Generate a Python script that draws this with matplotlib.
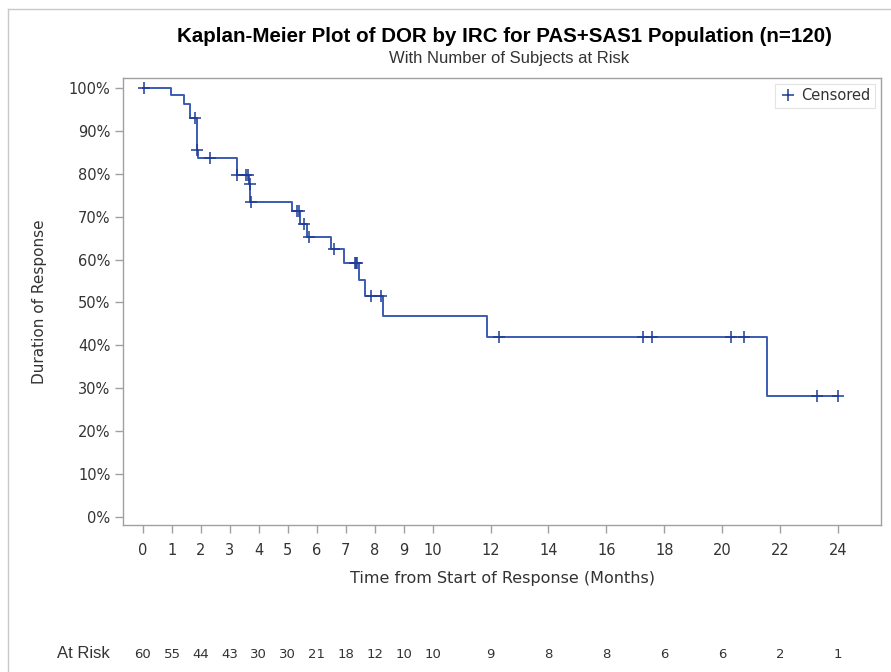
import numpy as np
import matplotlib
matplotlib.use("Agg")
import matplotlib.pyplot as plt
from matplotlib.lines import Line2D
from matplotlib.transforms import blended_transform_factory

# step curve: event times (months) and survival after each step
step_t = [0, 0.96, 1.42, 1.62, 1.87, 1.90, 3.25, 3.67, 3.71, 5.16, 5.42, 5.65,
          6.48, 6.95, 7.46, 7.67, 8.28, 11.89, 21.56, 24.0]
step_s = [1.0, 0.984, 0.962, 0.929, 0.855, 0.836, 0.798, 0.777, 0.733, 0.713, 0.683,
          0.653, 0.624, 0.591, 0.552, 0.514, 0.469, 0.419, 0.282, 0.282]

# censored observations
cens_t = [0.02, 1.79, 1.88, 2.31, 3.25, 3.55, 3.63, 3.69, 3.73, 5.33, 5.39, 5.56,
          5.74, 6.60, 7.32, 7.36, 7.40, 7.86, 8.21, 12.3, 17.25, 17.59, 20.29,
          20.75, 23.26, 24.0]
cens_s = [1.0, 0.929, 0.855, 0.836, 0.798, 0.798, 0.798, 0.777, 0.733, 0.713, 0.713,
          0.683, 0.653, 0.624, 0.591, 0.591, 0.591, 0.514, 0.514, 0.419, 0.419,
          0.419, 0.419, 0.419, 0.282, 0.282]

xticks = [0, 1, 2, 3, 4, 5, 6, 7, 8, 9, 10, 12, 14, 16, 18, 20, 22, 24]
at_risk = [60, 55, 44, 43, 30, 30, 21, 18, 12, 10, 10, 9, 8, 8, 6, 6, 2, 1]
yticks = [0, 0.1, 0.2, 0.3, 0.4, 0.5, 0.6, 0.7, 0.8, 0.9, 1.0]

line_c = '#3a5cb2'
mark_c = '#1f3c96'
grey = '#a0a0a0'
txt_c = '#333333'

fig = plt.figure(figsize=(8.91, 6.72), dpi=100)
fig.patch.set_facecolor('white')
ax = fig.add_axes([123/891, 1-525/672, (881-123)/891, (525-78)/672])

ax.step(step_t, step_s, where='post', c=line_c, lw=1.4)
ax.plot(cens_t, cens_s, ls='none', marker='+', ms=8, mew=1.1, c=mark_c)

ax.set_xlim(-0.69, 25.48)
ax.set_ylim(-0.0186, 1.023)
ax.set_xticks(xticks)
ax.set_xticklabels([str(v) for v in xticks])
ax.set_yticks(yticks)
ax.set_yticklabels([f'{int(round(v*100))}%' for v in yticks])

for sp in ax.spines.values():
    sp.set_color(grey)
    sp.set_linewidth(1.0)
ax.tick_params(axis='both', direction='out', length=6, width=1, color=grey,
               labelcolor=txt_c, labelsize=10.5)
ax.tick_params(axis='x', pad=7)
ax.tick_params(axis='y', pad=3)

for lab in ax.get_xticklabels() + ax.get_yticklabels():
    lab.set_family('DejaVu Sans')

ax.set_xlabel('Time from Start of Response (Months)', fontsize=11.5, color=txt_c,
              labelpad=9)
ax.set_ylabel('Duration of Response', fontsize=11, color=txt_c, labelpad=16)

handle = Line2D([], [], ls='none', marker='+', ms=8, mew=1.1, c=mark_c)
leg = ax.legend([handle], ['Censored'], loc='upper right', fontsize=10.5,
                frameon=True, fancybox=False, borderpad=0.3, handletextpad=0.3,
                handlelength=1.2, borderaxespad=0.4)
leg.get_frame().set_edgecolor('#dddddd')
leg.get_frame().set_linewidth(0.8)
for t in leg.get_texts():
    t.set_color(txt_c)

fig.text(504/891, 1-37/672, 'Kaplan-Meier Plot of DOR by IRC for PAS+SAS1 Population (n=120)',
         ha='center', va='center', fontsize=14.8, fontweight='bold',
         family='Liberation Sans', color='black')
fig.text(509/891, 1-58/672, 'With Number of Subjects at Risk', ha='center', va='center',
         fontsize=12, family='Liberation Sans', color=txt_c)

# at-risk row under the axis
trans = blended_transform_factory(ax.transData, fig.transFigure)
for t, n in zip(xticks, at_risk):
    ax.text(t, 1-654/672, str(n), transform=trans, ha='center', va='center',
            fontsize=9.5, color=txt_c, family='DejaVu Sans', clip_on=False)
fig.text(57/891, 1-653/672, 'At Risk', ha='left', va='center', fontsize=12,
         family='Liberation Sans', color=txt_c)

# outer frame lines (left and top)
fig.add_artist(Line2D([8/891, 8/891], [0, 1-9/672], transform=fig.transFigure,
                      c='#c8c8c8', lw=1))
fig.add_artist(Line2D([8/891, 1], [1-9/672, 1-9/672], transform=fig.transFigure,
                      c='#c8c8c8', lw=1))

fig.savefig('out.png', dpi=100)
